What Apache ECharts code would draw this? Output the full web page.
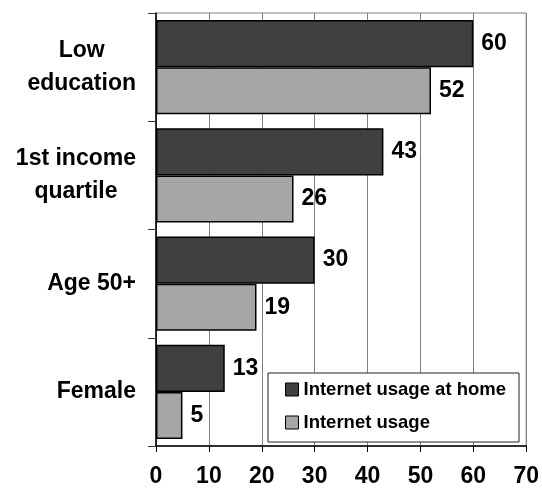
<!DOCTYPE html>
<html>
<head>
<meta charset="utf-8">
<script src="https://cdn.jsdelivr.net/npm/echarts@6/dist/echarts.min.js"></script>
<style>html,body{margin:0;padding:0;background:#fff}#c{width:542px;height:489px}</style>
</head>
<body>
<div id="c"></div>
<script>
const categories = ['Low\neducation', '1st income\nquartile', 'Age 50+', 'Female'];
const seriesNames = ['Internet usage at home', 'Internet usage'];
const homeValues = [60, 43, 30, 13];
const usageValues = [52, 26, 19, 5];
const xTicks = { min: 0, max: 70, interval: 10 };

const FONT = 'Liberation Sans, Arial, sans-serif';
const chart = echarts.init(document.getElementById('c'), null, { renderer: 'canvas' });
const labelStyle = {
  show: true, position: 'right', distance: 8,
  color: '#000', fontFamily: FONT, fontWeight: 'bold', fontSize: 23
};
chart.setOption({
  animation: false,
  backgroundColor: '#fff',
  grid: { left: 156, right: 14, top: 13, bottom: 43, show: true, borderColor: '#808080', borderWidth: 1, backgroundColor: 'transparent' },
  legend: {
    orient: 'vertical', left: 268, top: 373,
    padding: [7, 13, 10, 17], itemGap: 14,
    itemWidth: 13, itemHeight: 13, icon: 'rect',
    backgroundColor: '#fff', borderColor: '#222', borderWidth: 1,
    textStyle: { fontFamily: FONT, fontWeight: 'bold', fontSize: 18.5, lineHeight: 18, color: '#000' },
    itemStyle: { borderColor: '#000', borderWidth: 1 },
    data: seriesNames
  },
  xAxis: {
    type: 'value', min: xTicks.min, max: xTicks.max, interval: xTicks.interval,
    axisLine: { show: true, lineStyle: { color: '#000', width: 1.5 } },
    axisTick: { show: true, length: 6, lineStyle: { color: '#000' } },
    axisLabel: { margin: 19, color: '#000', fontFamily: FONT, fontWeight: 'bold', fontSize: 23 },
    splitLine: { show: true, lineStyle: { color: '#808080', width: 1 } }
  },
  yAxis: {
    type: 'category', data: categories, inverse: true,
    axisLine: { show: true, lineStyle: { color: '#000', width: 1.5 } },
    axisTick: { show: true, length: 8, lineStyle: { color: '#333' } },
    axisLabel: {
      margin: 20, align: 'right',
      formatter: v => v.split('\n').map(l => '{c|' + l + '}').join('\n'),
      rich: { c: { align: 'center', fontFamily: FONT, fontWeight: 'bold', fontSize: 23, lineHeight: 33, color: '#000' } }
    }
  },
  series: [
    { name: seriesNames[0], type: 'bar', data: homeValues, barGap: '0%', barCategoryGap: '13%',
      itemStyle: { color: '#404040', borderColor: '#000', borderWidth: 1.5 }, label: labelStyle },
    { name: seriesNames[1], type: 'bar', data: usageValues, barGap: '0%', barCategoryGap: '13%',
      itemStyle: { color: '#a6a6a6', borderColor: '#000', borderWidth: 1.5 }, label: labelStyle }
  ]
});
</script>
</body>
</html>
